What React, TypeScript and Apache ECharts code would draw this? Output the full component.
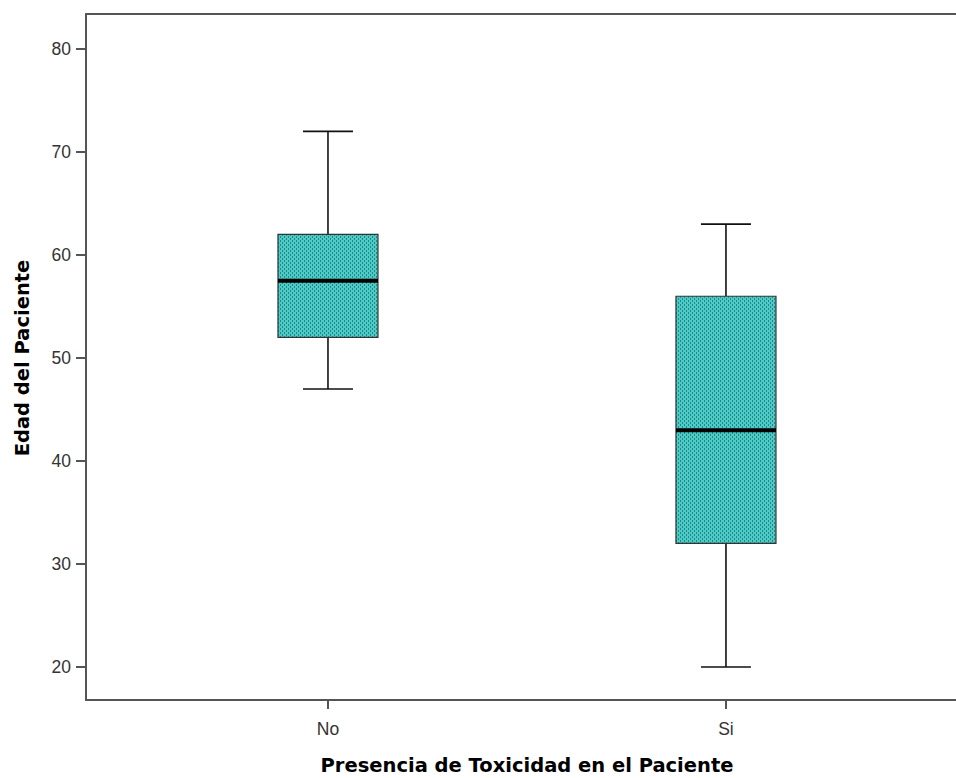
import React, { useEffect, useRef } from 'react';
import * as echarts from 'echarts';

const categories = ['No', 'Si'];
const whiskerLow = [47, 20];
const quartile1 = [52, 32];
const medians = [57.5, 43];
const quartile3 = [62, 56];
const whiskerHigh = [72, 63];
const yTicks = [20, 30, 40, 50, 60, 70, 80];
const xTitle = 'Presencia de Toxicidad en el Paciente';
const yTitle = 'Edad del Paciente';

function makePattern(): HTMLCanvasElement {
  const c = document.createElement('canvas');
  c.width = 4;
  c.height = 4;
  const ctx = c.getContext('2d')!;
  ctx.fillStyle = '#4accc8';
  ctx.fillRect(0, 0, 4, 4);
  ctx.fillStyle = '#2a8482';
  ctx.fillRect(0, 0, 1, 2);
  ctx.fillRect(2, 2, 1, 2);
  return c;
}

export default function App() {
  const ref = useRef<HTMLDivElement>(null);
  useEffect(() => {
    const chart = echarts.init(ref.current!, null, { renderer: 'svg' });
    const pattern = makePattern();
    const data = categories.map((_, i) => [
      i,
      whiskerLow[i],
      quartile1[i],
      medians[i],
      quartile3[i],
      whiskerHigh[i],
    ]);
    const xMin = -0.608;
    const xMax = 1.578;
    const axisColor = '#555555';
    chart.setOption({
      animation: false,
      backgroundColor: '#ffffff',
      grid: { left: 86, top: 14, right: 0, bottom: 78, containLabel: false },
      xAxis: [
        {
          type: 'value',
          position: 'bottom',
          min: xMin,
          max: xMax,
          splitLine: { show: false },
          axisLine: { show: true, onZero: false, lineStyle: { color: axisColor, width: 2 } },
          axisTick: {
            show: true,
            customValues: [0, 1],
            length: 9,
            lineStyle: { color: axisColor, width: 2 },
          },
          axisLabel: {
            customValues: [0, 1],
            formatter: (v: number) => categories[Math.round(v)] ?? '',
            fontSize: 17.5,
            fontFamily: 'Liberation Sans',
            color: '#333',
            margin: 20,
          },
        },
        {
          type: 'value',
          position: 'top',
          min: xMin,
          max: xMax,
          splitLine: { show: false },
          axisLine: { show: true, onZero: false, lineStyle: { color: axisColor, width: 2 } },
          axisTick: { show: false },
          axisLabel: { show: false },
        },
      ],
      yAxis: {
        type: 'value',
        min: 16.8,
        max: 83.4,
        splitLine: { show: false },
        axisLine: { show: true, onZero: false, lineStyle: { color: axisColor, width: 2 } },
        axisTick: {
          show: true,
          customValues: yTicks,
          length: 10,
          lineStyle: { color: axisColor, width: 2 },
        },
        axisLabel: {
          customValues: yTicks,
          fontSize: 17.5,
          fontFamily: 'Liberation Sans',
          color: '#333',
          margin: 15,
        },
      },
      series: [
        {
          type: 'custom',
          xAxisIndex: 0,
          clip: false,
          encode: { x: 0, y: [1, 2, 3, 4, 5] },
          data,
          renderItem: (params: any, api: any) => {
            const x = api.value(0);
            const cx = api.coord([x, api.value(3)])[0];
            const yLo = api.coord([x, api.value(1)])[1];
            const yQ1 = api.coord([x, api.value(2)])[1];
            const yMed = api.coord([x, api.value(3)])[1];
            const yQ3 = api.coord([x, api.value(4)])[1];
            const yHi = api.coord([x, api.value(5)])[1];
            const half = 50;
            const cap = 25;
            const whiskerStyle = { stroke: '#111', lineWidth: 1.6 };
            return {
              type: 'group',
              children: [
                { type: 'line', shape: { x1: cx, y1: yQ1, x2: cx, y2: yLo }, style: whiskerStyle },
                { type: 'line', shape: { x1: cx, y1: yQ3, x2: cx, y2: yHi }, style: whiskerStyle },
                { type: 'line', shape: { x1: cx - cap, y1: yLo, x2: cx + cap, y2: yLo }, style: whiskerStyle },
                { type: 'line', shape: { x1: cx - cap, y1: yHi, x2: cx + cap, y2: yHi }, style: whiskerStyle },
                {
                  type: 'rect',
                  shape: { x: cx - half, y: yQ3, width: 2 * half, height: yQ1 - yQ3 },
                  style: {
                    fill: { image: pattern, repeat: 'repeat' },
                    stroke: '#333',
                    lineWidth: 1.2,
                  },
                },
                {
                  type: 'line',
                  shape: { x1: cx - half, y1: yMed, x2: cx + half, y2: yMed },
                  style: { stroke: '#000', lineWidth: 4 },
                },
              ],
            };
          },
        },
      ],
      graphic: [
        {
          type: 'text',
          x: 527,
          y: 765,
          style: {
            text: xTitle,
            font: 'bold 19.5px "DejaVu Sans"',
            fill: '#000',
            align: 'center',
            verticalAlign: 'middle',
            textAlign: 'center',
            textVerticalAlign: 'middle',
          },
        },
        {
          type: 'text',
          x: 22,
          y: 358,
          rotation: Math.PI / 2,
          style: {
            text: yTitle,
            font: 'bold 19.5px "DejaVu Sans"',
            fill: '#000',
            align: 'center',
            verticalAlign: 'middle',
            textAlign: 'center',
            textVerticalAlign: 'middle',
          },
        },
      ],
    });
    return () => chart.dispose();
  }, []);
  return (
    <div
      ref={ref}
      style={{ position: 'absolute', left: 0, top: 0, width: 956, height: 778 }}
    />
  );
}
